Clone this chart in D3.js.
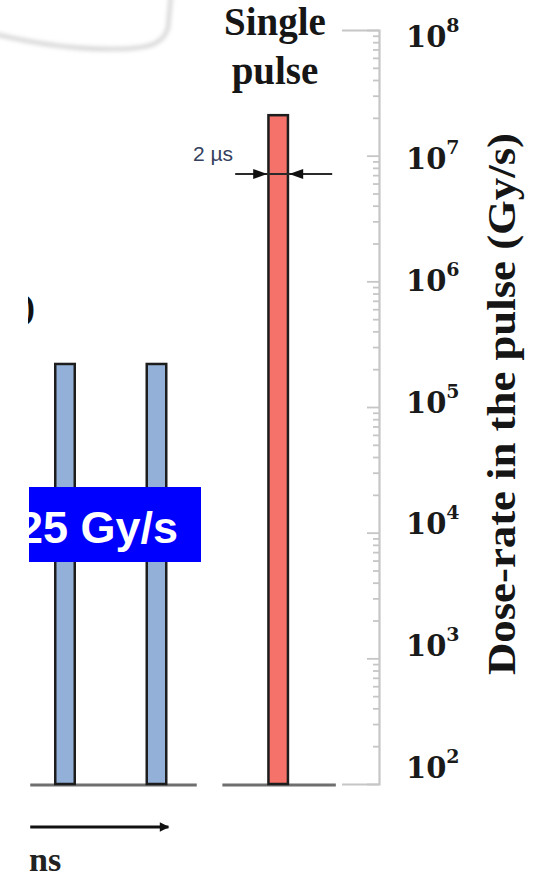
<!DOCTYPE html>
<html>
<head>
<meta charset="utf-8">
<script src="https://cdn.jsdelivr.net/npm/d3@7"></script>
<style>
  html, body { margin: 0; padding: 0; background: #fff; }
  svg { display: block; }
</style>
</head>
<body>
<script>
// Pulses: two pulses of a multi-pulse train and one single pulse
const pulseNames = ["Pulse 1", "Pulse 2", "Single pulse"];
const pulseTimes = [0.5, 1.5, 2.83];          // schematic time position
const pulseDoseRates = [2.2e5, 2.2e5, 2.1e7]; // Gy/s
const pulseKinds = ["multi", "multi", "single"];

// Time-axis baselines under each group
const baselineStarts = [0.12, 2.22];
const baselineEnds = [1.94, 3.46];
const timeArrowSpan = [0.12, 1.63];

// Dose-rate axis
const doseDomain = [1e2, 1e8];
const decadeExponents = [2, 3, 4, 5, 6, 7, 8];

const W = 537, H = 877;
const svg = d3.select("body").append("svg").attr("width", W).attr("height", H);

const defs = svg.append("defs");
defs.append("filter").attr("id", "soft").attr("x", "-20%").attr("y", "-20%")
  .attr("width", "140%").attr("height", "140%")
  .append("feGaussianBlur").attr("stdDeviation", 2.2);
defs.append("clipPath").attr("id", "leftClip")
  .append("rect").attr("x", 28).attr("y", 0).attr("width", W).attr("height", H);

const x = d3.scaleLinear().domain([0, 1]).range([19.25, 110.75]);
const y = d3.scaleLog().domain(doseDomain).range([784, 30]);
const yLabel = d3.scaleLog().domain(doseDomain).range([778, 47]);

// Callout outline shadow at top left
svg.append("path")
  .attr("d", "M-5,34 C40,45 80,50 120,49 C150,48 163,44 168,28 L171,-5")
  .attr("fill", "none").attr("stroke", "#cfcfcf").attr("stroke-width", 3.5)
  .attr("filter", "url(#soft)");

const left = svg.append("g").attr("clip-path", "url(#leftClip)");

// Partial heading bracket
left.append("text").attr("x", 23).attr("y", 319)
  .attr("font-family", "Liberation Serif").attr("font-weight", "bold")
  .attr("font-size", 36).attr("fill", "#111").text(")");

// Baselines
svg.append("g").selectAll("line").data(baselineStarts).join("line")
  .attr("x1", d => x(d)).attr("x2", (d, i) => x(baselineEnds[i]))
  .attr("y1", y(doseDomain[0]) + 1).attr("y2", y(doseDomain[0]) + 1)
  .attr("stroke", "#6f6f6f").attr("stroke-width", 3.2);

// Pulse bars
const barW = 19.5;
svg.append("g").selectAll("rect").data(pulseDoseRates).join("rect")
  .attr("x", (d, i) => x(pulseTimes[i]) - barW / 2)
  .attr("y", d => y(d))
  .attr("width", barW)
  .attr("height", d => y(doseDomain[0]) - y(d))
  .attr("fill", (d, i) => pulseKinds[i] === "single" ? "#f4726a" : "#93b1d8")
  .attr("stroke", "#1d1d1d").attr("stroke-width", 2.5)
  .append("title").text((d, i) => pulseNames[i]);

// Mean dose-rate box, laid over the pulse train
const boxG = svg.append("g").attr("clip-path", "url(#leftClip)");
boxG.append("rect").attr("x", 29).attr("y", 487).attr("width", 172).attr("height", 75)
  .attr("fill", "#0000ff");
boxG.append("text").attr("x", 178).attr("y", 543).attr("text-anchor", "end")
  .attr("font-family", "Liberation Sans").attr("font-weight", "bold")
  .attr("font-size", 45).attr("fill", "#fff").text("25 Gy/s");

// Time arrow
defs.append("marker").attr("id", "head").attr("viewBox", "0 0 10 10")
  .attr("refX", 9).attr("refY", 5).attr("markerWidth", 4.2).attr("markerHeight", 3.4)
  .attr("orient", "auto").attr("markerUnits", "strokeWidth")
  .append("path").attr("d", "M0,0 L10,5 L0,10 Z").attr("fill", "#111");
left.append("line")
  .attr("x1", x(timeArrowSpan[0])).attr("x2", x(timeArrowSpan[1]))
  .attr("y1", 827).attr("y2", 827)
  .attr("stroke", "#111").attr("stroke-width", 2.8).attr("marker-end", "url(#head)");
svg.append("text").attr("x", 29).attr("y", 871)
  .attr("font-family", "Liberation Serif").attr("font-weight", "bold")
  .attr("font-size", 34).attr("fill", "#222").text("ns");

// Pulse-width annotation on the single pulse
const sx = x(pulseTimes[2]);
const halfOuter = barW / 2 + 1.25;
const ann = svg.append("g");
ann.append("line").attr("x1", sx - 43).attr("x2", sx + 54).attr("y1", 174).attr("y2", 174)
  .attr("stroke", "#2a2a2a").attr("stroke-width", 2);
ann.append("path")
  .attr("d", `M${sx - halfOuter},174 l-14,-5 l0,10 Z`).attr("fill", "#111");
ann.append("path")
  .attr("d", `M${sx + halfOuter},174 l14,-5 l0,10 Z`).attr("fill", "#111");
ann.append("text").attr("x", 193).attr("y", 161)
  .attr("font-family", "Liberation Sans").attr("font-size", 21)
  .attr("fill", "#34405e").text("2 µs");

// Heading over the single pulse
const head = svg.append("text").attr("text-anchor", "middle")
  .attr("font-family", "Liberation Serif").attr("font-weight", "bold")
  .attr("font-size", 39).attr("fill", "#161616");
head.append("tspan").attr("x", 275).attr("y", 35).text("Single");
head.append("tspan").attr("x", 275).attr("y", 84).text("pulse");

// Log axis: decades with long ticks and bracket ends, minor ticks shorter
const axisX = 379;
const majorVals = decadeExponents.map(e => Math.pow(10, e));
const minorVals = y.ticks().filter(v => !majorVals.some(m => Math.abs(v - m) / m < 1e-9));

const gMajor = svg.append("g").attr("transform", `translate(${axisX},0)`)
  .call(d3.axisLeft(y).tickValues(majorVals).tickFormat("").tickSizeInner(12).tickSizeOuter(37));
const gMinor = svg.append("g").attr("transform", `translate(${axisX},0)`)
  .call(d3.axisLeft(y).tickValues(minorVals).tickFormat("").tickSizeInner(6).tickSizeOuter(0));
gMinor.select(".domain").remove();
[gMajor, gMinor].forEach(g => {
  g.selectAll("path, line").attr("stroke", "#c6c6c6").attr("stroke-width", 1.8);
});
gMajor.select(".domain").attr("stroke-width", 2.2);

// Decade labels to the right of the axis
const labels = svg.append("g").attr("font-family", "DejaVu Serif").attr("font-weight", "bold")
  .attr("fill", "#1a1a1a");
decadeExponents.forEach(e => {
  const t = labels.append("text").attr("x", 406).attr("y", yLabel(Math.pow(10, e)))
    .attr("font-size", 29);
  t.append("tspan").text("10");
  t.append("tspan").attr("dy", -15).attr("font-size", 19).text(String(e));
});

// Axis title
svg.append("text")
  .attr("transform", "translate(515,404) rotate(-90)")
  .attr("text-anchor", "middle")
  .attr("font-family", "Liberation Serif").attr("font-weight", "bold")
  .attr("font-size", 41).attr("fill", "#151515")
  .attr("textLength", 542).attr("lengthAdjust", "spacingAndGlyphs")
  .text("Dose-rate in the pulse (Gy/s)");
</script>
</body>
</html>
